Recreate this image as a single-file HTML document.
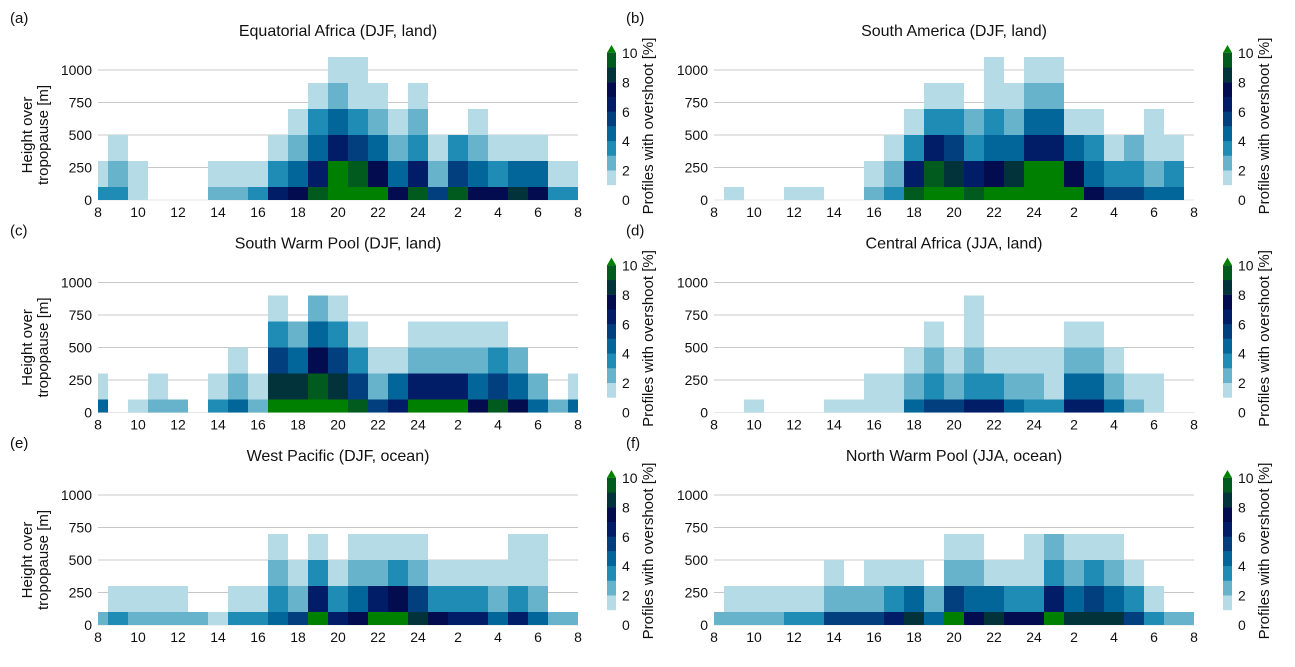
<!DOCTYPE html>
<html><head><meta charset="utf-8"><style>
html,body{margin:0;padding:0;background:#fff;}
svg{display:block;font-family:"Liberation Sans",sans-serif;}
</style></head><body>
<svg id="chart" width="1295" height="667" viewBox="0 0 1295 667" xmlns="http://www.w3.org/2000/svg"></svg>
<script>
// data: overshoot level (0-10) per height bin (rows 0-100,100-300,300-500,500-700,700-900,900-1100 m) per hour column (8..8)
const hourTicks = [8,10,12,14,16,18,20,22,24,2,4,6,8];
const heightTicks = [0,250,500,750,1000];
const rowEdges = [0,100,300,500,700,900,1100];
const cbTicks = [0,2,4,6,8,10];
const titles = ["Equatorial Africa (DJF, land)","South America (DJF, land)","South Warm Pool (DJF, land)","Central Africa (JJA, land)","West Pacific (DJF, ocean)","North Warm Pool (JJA, ocean)"];
const letters = ["(a)","(b)","(c)","(d)","(e)","(f)"];
const panelA = [
[3,3,1,0,0,0,2,2,3,6,7,9,10,10,10,7,9,5,9,7,7,8,7,3,3],
[1,2,1,0,0,0,1,1,1,3,4,6,10,9,7,4,6,2,5,4,3,4,4,1,1],
[0,1,0,0,0,0,0,0,0,1,2,4,6,5,4,2,3,1,3,2,1,1,1,0,0],
[0,0,0,0,0,0,0,0,0,0,1,3,4,3,2,1,2,0,0,1,0,0,0,0,0],
[0,0,0,0,0,0,0,0,0,0,0,1,2,1,1,0,1,0,0,0,0,0,0,0,0],
[0,0,0,0,0,0,0,0,0,0,0,0,1,1,0,0,0,0,0,0,0,0,0,0,0]];
const panelB = [
[0,1,0,0,1,1,0,0,2,3,9,10,10,9,10,10,10,10,10,7,5,5,4,4,0],
[0,0,0,0,0,0,0,0,1,2,6,9,8,6,7,8,10,10,7,4,3,3,2,3,0],
[0,0,0,0,0,0,0,0,0,1,3,6,5,3,4,4,6,6,4,3,1,2,1,1,0],
[0,0,0,0,0,0,0,0,0,0,1,3,3,2,3,2,4,4,1,1,0,0,1,0,0],
[0,0,0,0,0,0,0,0,0,0,0,1,1,0,1,1,2,2,0,0,0,0,0,0,0],
[0,0,0,0,0,0,0,0,0,0,0,0,0,0,1,0,1,1,0,0,0,0,0,0,0]];
const panelC = [
[4,0,1,2,2,0,3,4,2,10,10,10,10,9,5,6,10,10,10,7,9,7,4,2,4],
[1,0,0,1,0,0,1,2,1,8,8,9,8,5,2,4,6,6,6,4,5,4,2,0,1],
[0,0,0,0,0,0,0,1,0,5,4,7,5,3,1,1,2,2,2,2,3,2,0,0,0],
[0,0,0,0,0,0,0,0,0,3,2,4,3,1,0,0,1,1,1,1,1,0,0,0,0],
[0,0,0,0,0,0,0,0,0,1,0,2,1,0,0,0,0,0,0,0,0,0,0,0,0],
[0,0,0,0,0,0,0,0,0,0,0,0,0,0,0,0,0,0,0,0,0,0,0,0,0]];
const panelD = [
[0,0,1,0,0,0,1,1,1,1,4,5,5,6,6,4,3,3,6,6,4,2,1,0,0],
[0,0,0,0,0,0,0,0,1,1,2,3,2,3,3,2,2,1,4,4,2,1,1,0,0],
[0,0,0,0,0,0,0,0,0,0,1,2,1,2,1,1,1,1,2,2,1,0,0,0,0],
[0,0,0,0,0,0,0,0,0,0,0,1,0,1,0,0,0,0,1,1,0,0,0,0,0],
[0,0,0,0,0,0,0,0,0,0,0,0,0,1,0,0,0,0,0,0,0,0,0,0,0],
[0,0,0,0,0,0,0,0,0,0,0,0,0,0,0,0,0,0,0,0,0,0,0,0,0]];
const panelE = [
[2,3,2,2,2,2,1,3,3,4,5,10,6,7,10,10,8,7,6,6,4,6,4,2,2],
[0,1,1,1,1,0,0,1,1,3,2,6,3,4,6,7,5,3,3,3,2,3,2,0,0],
[0,0,0,0,0,0,0,0,0,2,1,3,1,2,2,3,2,1,1,1,1,1,1,0,0],
[0,0,0,0,0,0,0,0,0,1,0,1,0,1,1,1,1,0,0,0,0,1,1,0,0],
[0,0,0,0,0,0,0,0,0,0,0,0,0,0,0,0,0,0,0,0,0,0,0,0,0],
[0,0,0,0,0,0,0,0,0,0,0,0,0,0,0,0,0,0,0,0,0,0,0,0,0]];
const panelF = [
[2,2,2,2,3,3,5,5,5,6,8,4,10,7,8,7,7,10,8,8,8,5,3,2,2],
[0,1,1,1,1,1,2,2,2,3,4,2,5,4,4,3,3,6,4,5,4,3,1,0,0],
[0,0,0,0,0,0,1,0,1,1,1,0,2,2,1,1,1,3,2,3,2,1,0,0,0],
[0,0,0,0,0,0,0,0,0,0,0,0,1,1,0,0,1,2,1,1,1,0,0,0,0],
[0,0,0,0,0,0,0,0,0,0,0,0,0,0,0,0,0,0,0,0,0,0,0,0,0],
[0,0,0,0,0,0,0,0,0,0,0,0,0,0,0,0,0,0,0,0,0,0,0,0,0]];
const panels = [panelA,panelB,panelC,panelD,panelE,panelF];

const palette = ["none","#b4dbe6","#67b3cc","#1e8cb5","#03669a","#023f7e","#021d68","#020c4e","#02323a","#015a1e","#008000"];
const NS = "http://www.w3.org/2000/svg";
const svg = document.getElementById("chart");
function mk(tag, attrs, parent){const e=document.createElementNS(NS,tag);for(const k in attrs)e.setAttribute(k,attrs[k]);(parent||svg).appendChild(e);return e;}
function txt(s, attrs, parent){const e=mk("text",attrs,parent);e.textContent=s;return e;}

const origins = [[98,200],[714,200],[98,412.5],[714,412.5],[98,625],[714,625]];
const HW = 20, MS = 0.13;

panels.forEach((data, p) => {
  const [x0,y0] = origins[p];
  const g = mk("g",{});
  
  
  const xs = c => x0 + c*HW;
  const ys = m => y0 - m*MS;
  heightTicks.forEach(t => {
    const l = mk("line",{x1:x0,x2:x0+480,y1:ys(t),y2:ys(t),stroke:t===0?"#e6e6e6":"#c8c8c8","stroke-width":1},g);
    
    
    const tl = txt(String(t),{x:x0-6,y:ys(t)+5,"text-anchor":"end","font-size":14,fill:"#111"},g);
    
    
  });
  data.forEach((row, r) => {
    row.forEach((v, c) => {
      if (!v) return;
      const a = Math.max(0, c-0.5), b = Math.min(24, c+0.5);
      const rect = mk("rect",{x:xs(a),y:ys(rowEdges[r+1]),width:xs(b)-xs(a),height:ys(rowEdges[r])-ys(rowEdges[r+1]),fill:palette[v]},g);
      
      
    });
  });
  hourTicks.forEach((h,i) => {
    const tl = txt(String(h),{x:xs(i*2),y:y0+17,"text-anchor":"middle","font-size":14,fill:"#111"},g);
    
    
  });
  const t = txt(titles[p],{x:x0+240,y:y0-164,"text-anchor":"middle","font-size":16,fill:"#111"},g);
  
  
  const lt = txt(letters[p],{x:x0-88,y:y0-177,"font-size":15,fill:"#111"},g);
  
  
  if (p % 2 === 0) {
    const yl = txt("",{transform:`translate(${x0-66},${y0-65}) rotate(-90)`,"text-anchor":"middle","font-size":15,fill:"#111"},g);
    
    
    const s1 = mk("tspan",{x:0,y:0},yl); s1.textContent="Height over";
    const s2 = mk("tspan",{x:0,y:16},yl); s2.textContent="tropopause [m]";
  }
  const cx = x0 + 509, cw = 9;
  const cb = mk("g",{},g);
  
  
  for (let i=1;i<=9;i++){
    const seg = mk("rect",{x:cx,y:y0-15-14.7*i,width:cw,height:14.9,fill:palette[i]},cb);
    
    
  }
  const tip = mk("polygon",{points:`${cx},${y0-147.3} ${cx+cw},${y0-147.3} ${cx+cw/2},${y0-155}`,fill:palette[10]},cb);
  
  
  cbTicks.forEach(v => {
    const tl = txt(String(v),{x:cx+15,y:y0-v*14.7+5,"font-size":14,fill:"#111"},cb);
    
    
  });
  const ct = txt("Profiles with overshoot [%]",{transform:`translate(${cx+46},${y0-74}) rotate(-90)`,"text-anchor":"middle","font-size":15,fill:"#111"},cb);
  
  
});
</script>
</body></html>
